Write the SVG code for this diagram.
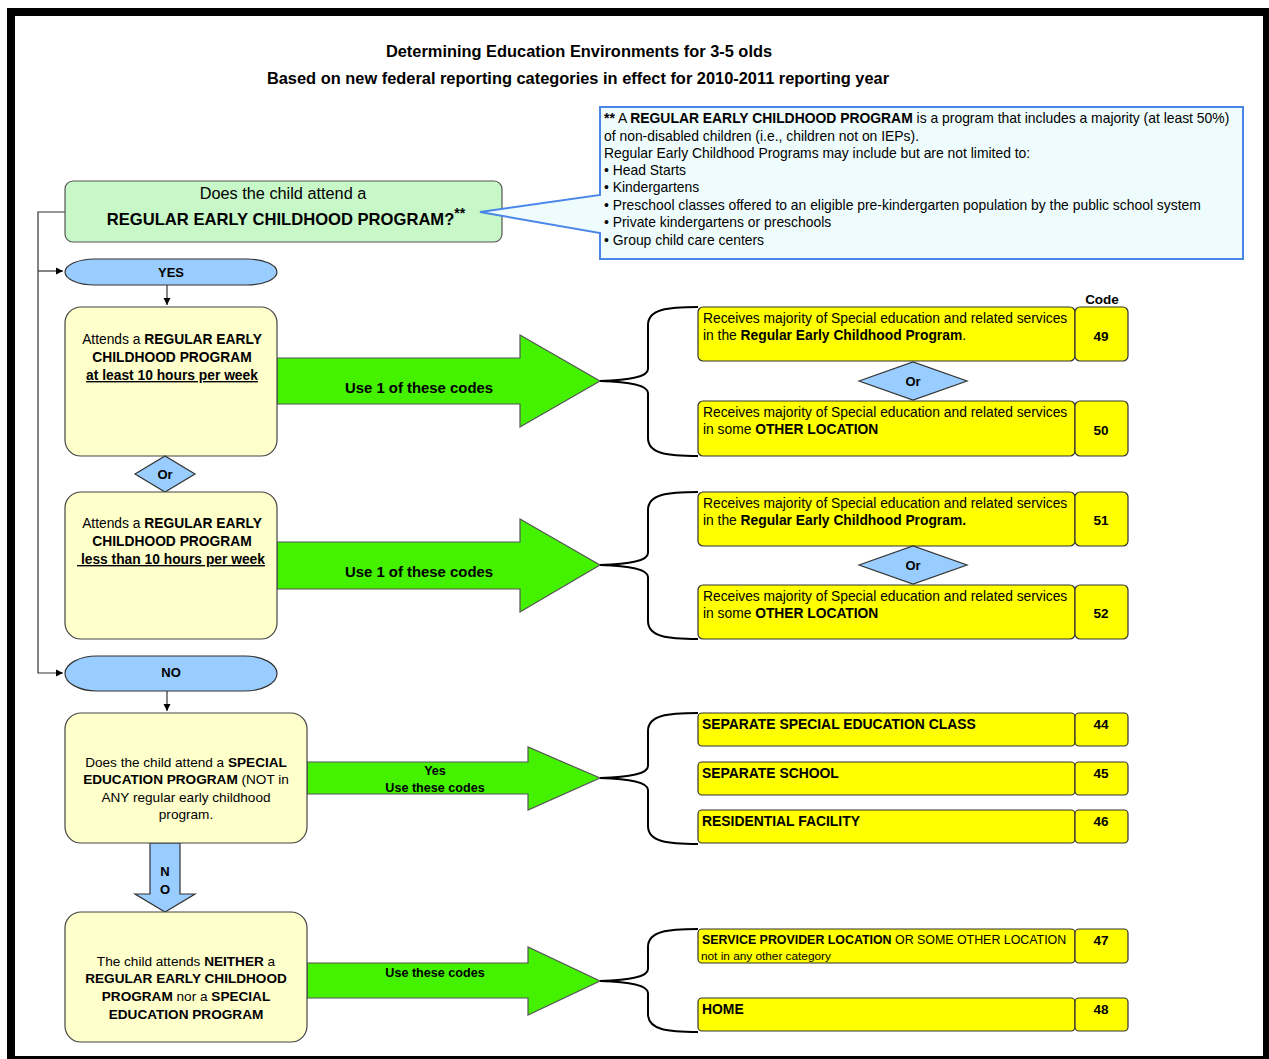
<svg xmlns="http://www.w3.org/2000/svg" width="1269" height="1059" viewBox="0 0 1269 1059">
<style>
text{font-family:"Liberation Sans",Arial,Helvetica,sans-serif;fill:#000}
.b{font-weight:bold}
.u{text-decoration:underline}
.m{text-anchor:middle}
.cream{fill:#ffffcc;stroke:#444;stroke-width:1.2}
.yel{fill:#ffff00;stroke:#333;stroke-width:1.2}
.blue{fill:#99ccff;stroke:#333;stroke-width:1.2}
.garrow{fill:#44f200;stroke:#555;stroke-width:1.2}
.brace{fill:none;stroke:#000;stroke-width:2}
.line{fill:none;stroke:#333;stroke-width:1.2}
.ct{font-size:13.9px}
.yt{font-size:13.8px}
</style>
<defs>
<marker id="ah" markerWidth="8" markerHeight="8" refX="7" refY="4" orient="auto" markerUnits="userSpaceOnUse">
<path d="M0,0.5 L7,4 L0,7.5 Z" fill="#000"/>
</marker>
</defs>
<rect x="7" y="8" width="1262" height="1051" fill="#000"/>
<rect x="15" y="16" width="1248" height="1040" fill="#fff"/>

<g id="title">
<text class="b m" x="579" y="57" font-size="16.4">Determining Education Environments for 3-5 olds</text>
<text class="b m" x="578" y="84" font-size="16.4">Based on new federal reporting categories in effect for 2010-2011 reporting year</text>
</g>

<g id="connectors">
<path class="line" d="M65,212 H38 V673 H63" marker-end="url(#ah)"/>
<path class="line" d="M38,271 H63" marker-end="url(#ah)"/>
<path class="line" d="M167,285 V305" marker-end="url(#ah)"/>
<path class="line" d="M167,691 V711" marker-end="url(#ah)"/>
<polygon class="garrow" points="277,358 520,358 520,335 600,381 520,427 520,404 277,404"/>
<polygon class="garrow" points="277,542 520,542 520,519 600,565 520,612 520,589 277,589"/>
<polygon class="garrow" points="307,762 528,762 528,747 600,778 528,810 528,794 307,794"/>
<polygon class="garrow" points="307,963 528,963 528,947 600,981 528,1015 528,998 307,998"/>
<polygon class="blue" points="150,843 180,843 180,894 195,894 165,912 135,894 150,894"/>
<path class="brace" d="M698,307 C668,307 648,309 648,325 L648,369 C648,377 630,380 600,381 C630,382 648,385 648,393 L648,438 C648,454 668,456 698,456"/>
<path class="brace" d="M698,492 C668,492 648,494 648,510 L648,553 C648,561 630,564 600,565 C630,566 648,569 648,577 L648,621 C648,637 668,639 698,639"/>
<path class="brace" d="M698,713 C668,713 648,715 648,731 L648,766 C648,774 630,777 600,778 C630,779 648,782 648,790 L648,826 C648,842 668,844 698,844"/>
<path class="brace" d="M698,929 C668,929 648,931 648,947 L648,969 C648,977 630,980 600,981 C630,982 648,985 648,993 L648,1014 C648,1030 668,1032 698,1032"/>
<text class="b m" x="419" y="393" font-size="14.9">Use 1 of these codes</text>
<text class="b m" x="419" y="577" font-size="14.9">Use 1 of these codes</text>
<text class="b m" x="435" y="775" font-size="12.6">Yes</text>
<text class="b m" x="435" y="792" font-size="12.6">Use these codes</text>
<text class="b m" x="435" y="977" font-size="12.6">Use these codes</text>
<text class="b m" x="165" y="876" font-size="13">N</text>
<text class="b m" x="165" y="894" font-size="13">O</text>
</g>

<g id="question">
<rect x="65" y="181" width="437" height="61" rx="8" fill="#c8f8c8" stroke="#555" stroke-width="1.2"/>
<text class="m" x="283" y="199" font-size="16.3">Does the child attend a</text>
<text class="m b" x="286" y="225" font-size="16.6">REGULAR EARLY CHILDHOOD PROGRAM?<tspan dy="-7" font-size="14">**</tspan></text>
</g>

<g id="callout">
<path d="M600,107 H1243 V259 H600 V233 L480,212 L600,195 Z" fill="#eefcfd" stroke="#4a86e8" stroke-width="2"/>
<text x="604" y="123" class="ct"><tspan class="b">**</tspan> A <tspan class="b">REGULAR EARLY CHILDHOOD PROGRAM</tspan> is a program that includes a majority (at least 50%)</text>
<text x="604" y="141" class="ct">of non-disabled children (i.e., children not on IEPs).</text>
<text x="604" y="158" class="ct">Regular Early Childhood Programs may include but are not limited to:</text>
<text x="604" y="175" class="ct">• Head Starts</text>
<text x="604" y="192" class="ct">• Kindergartens</text>
<text x="604" y="210" class="ct">• Preschool classes offered to an eligible pre-kindergarten population by the public school system</text>
<text x="604" y="227" class="ct">• Private kindergartens or preschools</text>
<text x="604" y="245" class="ct">• Group child care centers</text>
</g>

<g id="yes">
<rect x="65" y="259" width="212" height="26" rx="30" ry="13" class="blue"/>
<text class="b m" x="171" y="277" font-size="13">YES</text>
</g>

<g id="box-atleast10">
<rect x="65" y="307" width="212" height="149" rx="16" class="cream"/>
<text class="m" x="172" y="344" font-size="13.8">Attends a <tspan class="b">REGULAR EARLY</tspan></text>
<text class="m b" x="172" y="362" font-size="13.8">CHILDHOOD PROGRAM</text>
<text class="m b u" x="172" y="380" font-size="13.8">at least 10 hours per week</text>
</g>

<g id="or-left">
<polygon class="blue" points="135,474 165,456 195,474 165,492"/>
<text class="b m" x="165" y="479" font-size="13">Or</text>
</g>

<g id="box-less10">
<rect x="65" y="492" width="212" height="147" rx="16" class="cream"/>
<text class="m" x="172" y="528" font-size="13.8">Attends a <tspan class="b">REGULAR EARLY</tspan></text>
<text class="m b" x="172" y="546" font-size="13.8">CHILDHOOD PROGRAM</text>
<text class="m b u" x="171" y="564" font-size="13.8" xml:space="preserve"> less than 10 hours per week</text>
</g>

<g id="no">
<rect x="65" y="656" width="212" height="35" rx="32" ry="17.5" class="blue"/>
<text class="b m" x="171" y="677" font-size="13">NO</text>
</g>

<g id="box-special">
<rect x="65" y="713" width="242" height="130" rx="16" class="cream"/>
<text class="m" x="186" y="767" font-size="13.6">Does the child attend a <tspan class="b">SPECIAL</tspan></text>
<text class="m" x="186" y="784" font-size="13.6"><tspan class="b">EDUCATION PROGRAM</tspan> (NOT in</text>
<text class="m" x="186" y="802" font-size="13.6">ANY regular early childhood</text>
<text class="m" x="186" y="819" font-size="13.6">program.</text>
</g>

<g id="box-neither">
<rect x="65" y="912" width="242" height="130" rx="16" class="cream"/>
<text class="m" x="186" y="966" font-size="13.6">The child attends <tspan class="b">NEITHER</tspan> a</text>
<text class="m b" x="186" y="983" font-size="13.6">REGULAR EARLY CHILDHOOD</text>
<text class="m" x="186" y="1001" font-size="13.6"><tspan class="b">PROGRAM</tspan> nor a <tspan class="b">SPECIAL</tspan></text>
<text class="m b" x="186" y="1019" font-size="13.6">EDUCATION PROGRAM</text>
</g>

<text class="b m" x="1102" y="304" font-size="13.5">Code</text>

<g id="code49">
<rect x="698" y="307" width="377" height="54" rx="5" class="yel"/>
<rect x="1075" y="307" width="53" height="54" rx="5" class="yel"/>
<text x="703" y="323" class="yt">Receives majority of Special education and related services</text>
<text x="703" y="340" class="yt">in the <tspan class="b">Regular Early Childhood Program</tspan>.</text>
<text class="b m" x="1101" y="341" font-size="13.5">49</text>
</g>

<g id="or49-50">
<polygon class="blue" points="859,381 913,362 967,381 913,400"/>
<text class="b m" x="913" y="386" font-size="13">Or</text>
</g>

<g id="code50">
<rect x="698" y="401" width="377" height="55" rx="5" class="yel"/>
<rect x="1075" y="401" width="53" height="55" rx="5" class="yel"/>
<text x="703" y="417" class="yt">Receives majority of Special education and related services</text>
<text x="703" y="434" class="yt">in some <tspan class="b">OTHER LOCATION</tspan></text>
<text class="b m" x="1101" y="435" font-size="13.5">50</text>
</g>

<g id="code51">
<rect x="698" y="492" width="377" height="54" rx="5" class="yel"/>
<rect x="1075" y="492" width="53" height="54" rx="5" class="yel"/>
<text x="703" y="508" class="yt">Receives majority of Special education and related services</text>
<text x="703" y="525" class="yt">in the <tspan class="b">Regular Early Childhood Program.</tspan></text>
<text class="b m" x="1101" y="525" font-size="13.5">51</text>
</g>

<g id="or51-52">
<polygon class="blue" points="859,565 913,546 967,565 913,584"/>
<text class="b m" x="913" y="570" font-size="13">Or</text>
</g>

<g id="code52">
<rect x="698" y="585" width="377" height="54" rx="5" class="yel"/>
<rect x="1075" y="585" width="53" height="54" rx="5" class="yel"/>
<text x="703" y="601" class="yt">Receives majority of Special education and related services</text>
<text x="703" y="618" class="yt">in some <tspan class="b">OTHER LOCATION</tspan></text>
<text class="b m" x="1101" y="618" font-size="13.5">52</text>
</g>

<g id="code44">
<rect x="698" y="713" width="377" height="33" rx="4" class="yel"/>
<rect x="1075" y="713" width="53" height="33" rx="4" class="yel"/>
<text class="b" x="702" y="729" font-size="13.9">SEPARATE SPECIAL EDUCATION CLASS</text>
<text class="b m" x="1101" y="729" font-size="13.5">44</text>
</g>

<g id="code45">
<rect x="698" y="762" width="377" height="33" rx="4" class="yel"/>
<rect x="1075" y="762" width="53" height="33" rx="4" class="yel"/>
<text class="b" x="702" y="778" font-size="13.9">SEPARATE SCHOOL</text>
<text class="b m" x="1101" y="778" font-size="13.5">45</text>
</g>

<g id="code46">
<rect x="698" y="810" width="377" height="33" rx="4" class="yel"/>
<rect x="1075" y="810" width="53" height="33" rx="4" class="yel"/>
<text class="b" x="702" y="826" font-size="13.9">RESIDENTIAL FACILITY</text>
<text class="b m" x="1101" y="826" font-size="13.5">46</text>
</g>

<g id="code47">
<rect x="698" y="929" width="377" height="34" rx="4" class="yel"/>
<rect x="1075" y="929" width="53" height="34" rx="4" class="yel"/>
<text x="702" y="944" font-size="12.4"><tspan class="b">SERVICE PROVIDER LOCATION</tspan> OR SOME OTHER LOCATION</text>
<text x="701" y="960" font-size="11.8">not in any other category</text>
<text class="b m" x="1101" y="945" font-size="13.5">47</text>
</g>

<g id="code48">
<rect x="698" y="998" width="377" height="33" rx="4" class="yel"/>
<rect x="1075" y="998" width="53" height="33" rx="4" class="yel"/>
<text class="b" x="702" y="1014" font-size="13.9">HOME</text>
<text class="b m" x="1101" y="1014" font-size="13.5">48</text>
</g>
</svg>
